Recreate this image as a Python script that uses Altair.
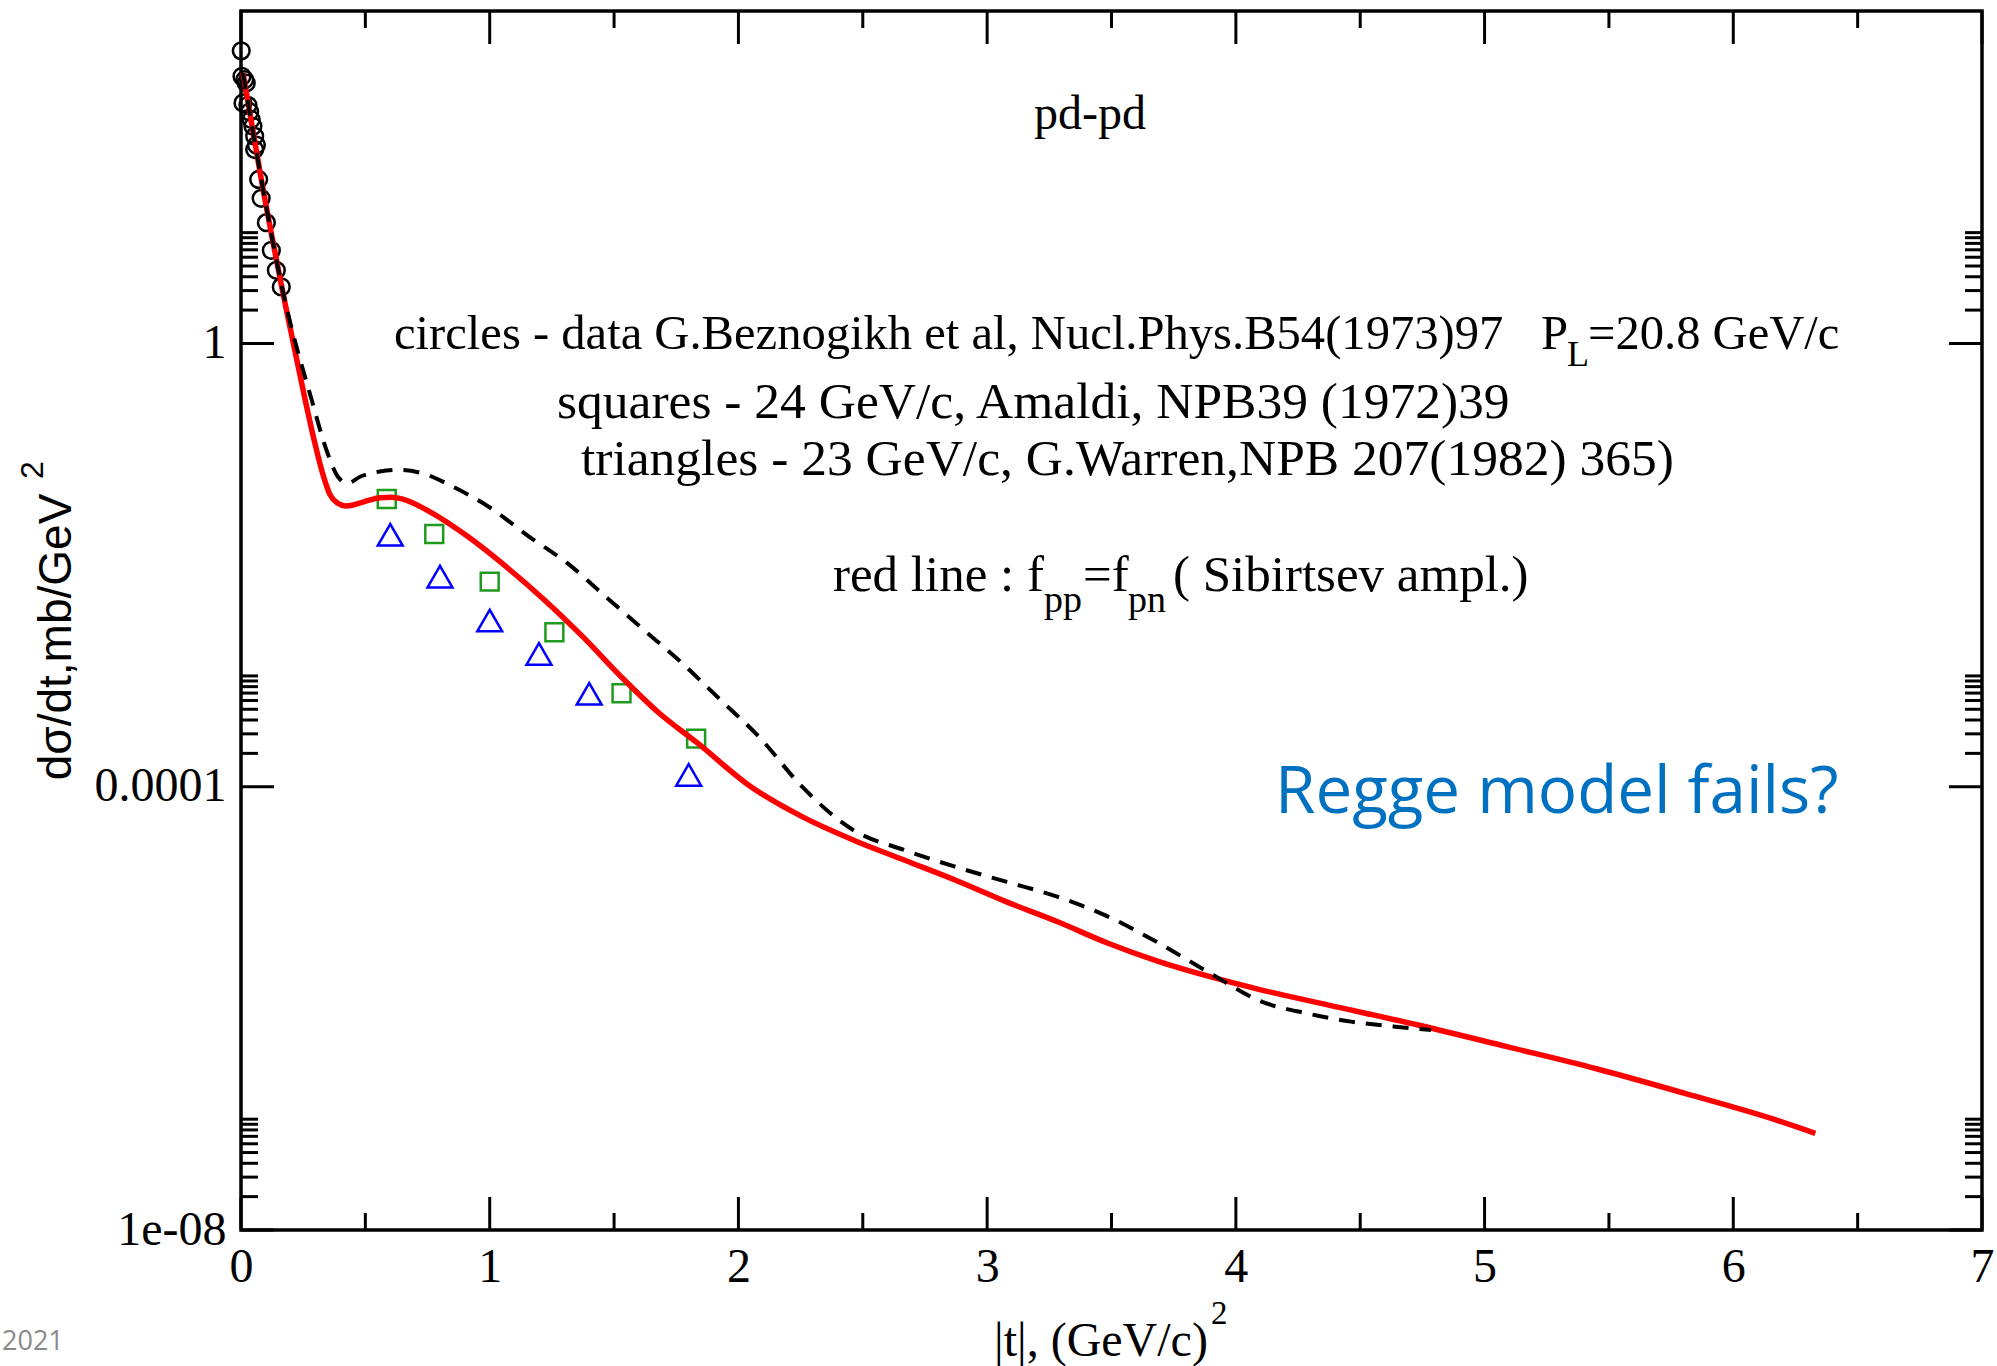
import altair as alt
import pandas as pd

# ---------------- data ----------------
circ_t = [0.001, 0.004, 0.015, 0.021, 0.008, 0.028, 0.035, 0.041, 0.048,
          0.055, 0.062, 0.055, 0.071, 0.081, 0.102, 0.122, 0.142, 0.162]
circ_v = [437, 257, 240, 224, 148, 141, 123, 105, 91.2,
          74.1, 61.7, 56.2, 30.2, 20.4, 12.3, 6.92, 4.57, 3.24]

sq_t = [0.586, 0.777, 1.0, 1.26, 1.53, 1.83]
sq_v = [0.0395, 0.0191, 0.0071, 0.00248, 0.000698, 0.000272]

tri_t = [0.60, 0.80, 1.0, 1.198, 1.40, 1.80]
tri_v = [0.01875, 0.00787, 0.00316, 0.00158, 0.000689, 0.000128]

red_t = [0.008, 0.082, 0.18, 0.258, 0.297, 0.328, 0.358, 0.389, 0.42, 0.451,
         0.497, 0.558, 0.605, 0.651, 0.758, 0.912, 1.066, 1.22, 1.374, 1.528,
         1.682, 1.836, 2.05, 2.256, 2.461, 2.666, 2.871, 3.076, 3.281, 3.486,
         3.691, 3.896, 4.10, 4.373, 4.732, 5.09, 5.45, 5.809, 6.168, 6.33]
red_v = [275, 29.9, 2.14, 0.31, 0.126, 0.0675, 0.0431, 0.0361, 0.0342, 0.0349,
         0.0374, 0.0406, 0.0410, 0.0394, 0.0304, 0.0181, 0.00968, 0.00485, 0.00226, 0.000986,
         0.000460, 0.000247, 1.0e-4, 5.37e-5, 3.31e-5, 2.18e-5, 1.44e-5, 9.18e-6, 6.07e-6, 3.87e-6,
         2.64e-6, 1.93e-6, 1.47e-6, 1.07e-6, 7.08e-7, 4.51e-7, 2.85e-7, 1.70e-7, 9.9e-8, 7.46e-8]

dash_t = [0.008, 0.082, 0.17, 0.284, 0.343, 0.389, 0.427, 0.481, 0.558, 0.635,
          0.728, 0.851, 1.005, 1.158, 1.312, 1.466, 1.62, 1.774, 1.928, 2.082,
          2.256, 2.461, 2.666, 2.871, 3.076, 3.281, 3.486, 3.691, 3.9,
          4.104, 4.282, 4.463, 4.642, 4.785]
dash_v = [275, 29.9, 2.84, 0.31, 0.110, 0.0630, 0.0548, 0.0630, 0.0698, 0.0723,
          0.0675, 0.0511, 0.0326, 0.0181, 0.0104, 0.0052, 0.0026, 0.0013, 0.000607, 0.000283,
          0.0001, 4.07e-5, 2.69e-5, 1.90e-5, 1.39e-5, 1.02e-5, 6.73e-6, 3.87e-6, 2.05e-6,
          1.15e-6, 9.04e-7, 7.59e-7, 6.84e-7, 6.38e-7]

x_major = [0, 1, 2, 3, 4, 5, 6, 7]
x_minor = [0.5, 1.5, 2.5, 3.5, 4.5, 5.5, 6.5]
y_major = [1e-8, 1e-4, 1]
y_minor_mult = [2, 3, 4, 5, 6, 7, 8, 9, 10]
y_minor = [d * k for d in y_major for k in y_minor_mult]
y_labels = ["1e-08", "0.0001", "1"]

# ---------------- layout ----------------
W, H = 1741, 1219
OX, OY = 241, 11
SERIF = "Liberation Serif"
SANS = "Liberation Sans"
MAJ, MIN = 33, 17

xs = alt.Scale(domain=[0, 7], nice=False, zero=False)
ys = alt.Scale(type="log", domain=[1e-8, 1e3], nice=False)

xaxis = alt.Axis(values=x_major, title=None, grid=False, ticks=False, tickSize=0,
                 domain=False, labelFont=SERIF, labelFontSize=48, labelPadding=13,
                 labelFlush=False, labelOverlap=False, labelColor="black")
yaxis = alt.Axis(values=y_major, title=None, grid=False, ticks=False, tickSize=0,
                 domain=False, labelFont=SERIF, labelFontSize=48, labelPadding=15,
                 labelFlush=False, labelOverlap=False, labelColor="black",
                 labelExpr="datum.value < 1e-6 ? '%s' : (datum.value < 0.01 ? '%s' : '%s')" % tuple(y_labels))

X = alt.X("t:Q", scale=xs, axis=xaxis)
Y = alt.Y("v:Q", scale=ys, axis=yaxis)


def xticks(vals, length, top):
    y0, y1 = (0, length) if top else (H, H - length)
    return alt.Chart(pd.DataFrame({"t": vals})).mark_rule(color="black", strokeWidth=3).encode(
        x=X, y=alt.value(y0), y2=alt.value(y1))


def yticks(vals, length, right):
    x0, x1 = (W, W - length) if right else (0, length)
    return alt.Chart(pd.DataFrame({"v": vals})).mark_rule(color="black", strokeWidth=3).encode(
        y=Y, x=alt.value(x0), x2=alt.value(x1))


def label(txt, x, y, size=48, align="left", font=SERIF, color="black", angle=0):
    return alt.Chart(pd.DataFrame({"s": [txt]})).mark_text(
        align=align, baseline="alphabetic", font=font, fontSize=size, color=color, angle=angle
    ).encode(x=alt.value(x - OX), y=alt.value(y - OY), text="s:N")


circles = alt.Chart(pd.DataFrame({"t": circ_t, "v": circ_v})).mark_point(
    shape="circle", filled=False, color="black", strokeWidth=2.5, size=280, opacity=1).encode(X, Y)
squares = alt.Chart(pd.DataFrame({"t": sq_t, "v": sq_v})).mark_point(
    shape="square", filled=False, color="#1f9a1f", strokeWidth=2.5, size=320, opacity=1).encode(X, Y)
triangles = alt.Chart(pd.DataFrame({"t": tri_t, "v": tri_v})).mark_point(
    shape="triangle-up", filled=False, color="#0000ff", strokeWidth=2.5, size=620, opacity=1).encode(X, Y)
red = alt.Chart(pd.DataFrame({"t": red_t, "v": red_v})).mark_line(
    color="#ff0000", strokeWidth=5.5, interpolate="monotone").encode(X, Y)
dashed = alt.Chart(pd.DataFrame({"t": dash_t, "v": dash_v})).mark_line(
    color="black", strokeWidth=4, strokeDash=[16, 11], interpolate="monotone").encode(X, Y)

texts = [
    label("pd-pd", 1090, 129, align="center"),
    label("circles - data G.Beznogikh et al, Nucl.Phys.B54(1973)97", 394, 349, size=48.6),
    label("P", 1541, 349, size=48.6),
    label("L", 1567, 366, size=36),
    label("=20.8 GeV/c", 1588, 349, size=48.6),
    label("squares - 24 GeV/c, Amaldi, NPB39 (1972)39", 557, 418, size=51.5),
    label("triangles - 23 GeV/c, G.Warren,NPB 207(1982) 365)", 581, 475, size=51.5),
    label("red line : f", 833, 591, size=51),
    label("pp", 1044, 612, size=38),
    label("=f", 1083, 591, size=51),
    label("pn", 1128, 612, size=38),
    label("( Sibirtsev ampl.)", 1173, 591, size=51),
    label("Regge model fails?", 1275, 813, size=65.5, font="Open Sans", color="#0070C0"),
    label("2021", 2, 1350, size=27, font="Open Sans", color="#8a8a8a"),
    label("dσ/dt,mb/GeV", 71, 637, size=46, align="center", font=SANS, angle=270),
    label("2", 43, 470, size=32, align="center", font=SANS, angle=270),
    label("|t|, (GeV/c)", 1101, 1356, align="center"),
    label("2", 1211, 1324, size=33),
]

layers = [
    xticks(x_major, MAJ, False), xticks(x_minor, MIN, False),
    xticks(x_major, MAJ, True), xticks(x_minor, MIN, True),
    yticks(y_major, MAJ, False), yticks(y_minor, MIN, False),
    yticks(y_major, MAJ, True), yticks(y_minor, MIN, True),
    circles, squares, triangles, red, dashed,
] + texts

chart = alt.layer(*layers).properties(
    width=W, height=H,
    autosize=alt.AutoSizeParams(type="none"),
    padding={"left": OX, "top": OY, "right": 1997 - OX - W, "bottom": 1366 - OY - H},
    background="white",
).configure_view(stroke="black", strokeWidth=3.5)

chart.save("out.html", embed_options={"renderer": "svg", "actions": False})
